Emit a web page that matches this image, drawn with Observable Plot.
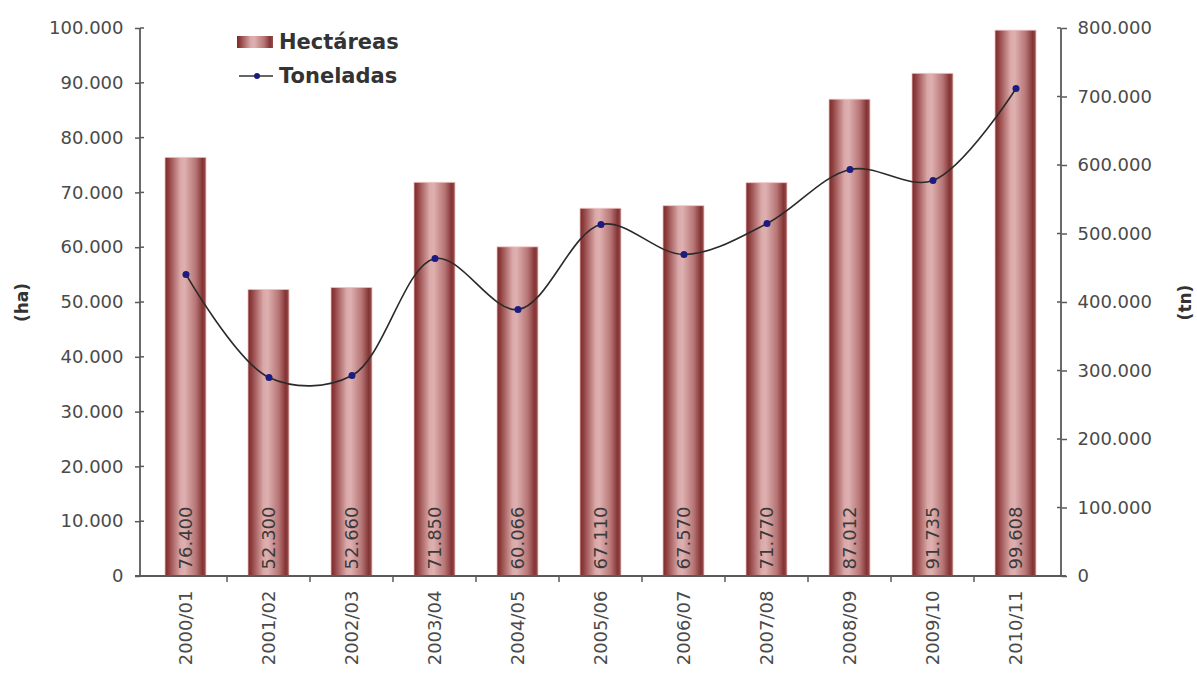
<!DOCTYPE html>
<html>
<head>
<meta charset="utf-8">
<script src="https://cdn.jsdelivr.net/npm/d3@7"></script>
<script src="https://cdn.jsdelivr.net/npm/@observablehq/plot@0.6"></script>
<style>
  html, body { margin: 0; padding: 0; background: #fff; }
  #wrap { position: relative; width: 1197px; height: 675px; font-family: "DejaVu Sans", Verdana, sans-serif; }
  #legend { position: absolute; left: 237px; top: 30px; width: 162px; height: 64px; overflow: hidden; }
  .lg-row { position: absolute; left: 0; display: flex; align-items: center; white-space: nowrap;
            font-weight: bold; font-size: 21px; color: #333; }
  .sw-bar { width: 36px; height: 12px; margin-right: 6px;
            background: linear-gradient(to right, #7b2a2a 0%, #8e3c3c 8%, #dba9a9 38%, #deb0b0 48%, #b77575 75%, #833333 92%, #9a5050 100%); }
</style>
</head>
<body>
<div id="wrap"></div>
<script>
// ---- data ----
const campanias = ["2000/01","2001/02","2002/03","2003/04","2004/05","2005/06","2006/07","2007/08","2008/09","2009/10","2010/11"];
const hectareas = [76400, 52300, 52660, 71850, 60066, 67110, 67570, 71770, 87012, 91735, 99608];
const toneladas = [441000, 290500, 293400, 464200, 389800, 513900, 470100, 515300, 594200, 578100, 712400];
const ticksHa = [0, 10000, 20000, 30000, 40000, 50000, 60000, 70000, 80000, 90000, 100000];
const ticksTn = [0, 100000, 200000, 300000, 400000, 500000, 600000, 700000, 800000];
const maxHa = 100000, maxTn = 800000;
const ratio = maxTn / maxHa;

const data = campanias.map((c, i) => ({c, ha: hectareas[i], tn: toneladas[i]}));
const locale = d3.formatLocale({decimal: ",", thousands: ".", grouping: [3], currency: ["", ""]});
const fmt = locale.format(",d");

const axisColor = "#5a5a5a";
const labelColor = "#4a4a4a";

const defs = () => {
  const svg = d3.create("svg:defs");
  const g = svg.append("linearGradient").attr("id", "barGrad").attr("x1", "0").attr("x2", "1").attr("y1", "0").attr("y2", "0");
  [[0, "#7b2a2a"], [0.08, "#8e3c3c"], [0.38, "#dba9a9"], [0.48, "#deb0b0"], [0.75, "#b77575"], [0.92, "#833333"], [1, "#9a5050"]]
    .forEach(([o, col]) => g.append("stop").attr("offset", o).attr("stop-color", col));
  return svg.node();
};

const decor = (index, scales, values, dims) => {
  const g = d3.create("svg:g").attr("stroke", axisColor).attr("fill", "none");
  const x0 = dims.marginLeft, x1 = dims.width - dims.marginRight;
  const yt = dims.marginTop, yb = dims.height - dims.marginBottom;
  g.append("line").attr("x1", x0).attr("x2", x0).attr("y1", yt).attr("y2", yb).attr("stroke-width", 1.8);
  g.append("line").attr("x1", x1).attr("x2", x1).attr("y1", yt).attr("y2", yb).attr("stroke-width", 1.8);
  g.append("line").attr("x1", x0 - 5).attr("x2", x1 + 5).attr("y1", yb).attr("y2", yb).attr("stroke-width", 1.8);
  // inward halves of the crossing ticks
  ticksHa.forEach(v => { const y = scales.y(v); g.append("line").attr("x1", x0).attr("x2", x0 + 4).attr("y1", y).attr("y2", y).attr("stroke-width", 1.5); });
  ticksTn.forEach(v => { const y = scales.y(v / ratio); g.append("line").attr("x1", x1 - 4).attr("x2", x1).attr("y1", y).attr("y2", y).attr("stroke-width", 1.5); });
  // category boundary ticks on x axis
  const xs = scales.x;
  const bw = xs.bandwidth ? xs.bandwidth() : 0;
  for (let i = 1; i < campanias.length; i++) {
    const bx = (xs(campanias[i - 1]) + xs(campanias[i])) / 2 + bw / 2;
    g.append("line").attr("x1", bx).attr("x2", bx).attr("y1", yb).attr("y2", yb + 6).attr("stroke-width", 1.5);
  }
  return g.node();
};

const chart = Plot.plot({
  width: 1197,
  height: 675,
  marginTop: 28,
  marginBottom: 99,
  marginLeft: 140,
  marginRight: 136,
  style: {fontFamily: "DejaVu Sans, Verdana, sans-serif", fontSize: "18px", color: labelColor, background: "#fff"},
  x: {domain: campanias, paddingInner: 0.51, paddingOuter: 0.255, label: null},
  y: {domain: [0, maxHa], label: null},
  marks: [
    defs,
    Plot.barY(data, {x: "c", y: "ha", fill: "url(#barGrad)", stroke: "#f0c4c4", strokeWidth: 0.8}),
    Plot.text(data, {x: "c", y: 0, text: d => fmt(d.ha), rotate: -90, textAnchor: "start", dy: -7, fill: "#3a3a3a", fontSize: 18}),
    Plot.line(data, {x: "c", y: d => d.tn / ratio, curve: "catmull-rom", stroke: "#2a2a2a", strokeWidth: 1.6}),
    Plot.dot(data, {x: "c", y: d => d.tn / ratio, r: 3.5, fill: "#1c1c80", stroke: "none"}),
    Plot.axisY({anchor: "left", ticks: ticksHa, tickFormat: fmt, tickSize: 5, tickPadding: 12, label: null, stroke: axisColor, strokeWidth: 1.5, fill: labelColor}),
    Plot.axisY({anchor: "right", ticks: ticksTn.map(v => v / ratio), tickFormat: v => fmt(v * ratio), tickSize: 5, tickPadding: 11, label: null, stroke: axisColor, strokeWidth: 1.5, fill: labelColor}),
    Plot.axisX({tickRotate: -90, tickSize: 0, tickPadding: 14, label: null, fill: labelColor}),
    Plot.text(["(ha)"], {frameAnchor: "left", textAnchor: "middle", dx: -118, rotate: -90, fontWeight: "bold", fontSize: 17, fill: "#333"}),
    Plot.text(["(tn)"], {frameAnchor: "right", textAnchor: "middle", dx: 124, rotate: -90, fontWeight: "bold", fontSize: 17, fill: "#333"}),
    decor
  ]
});

const wrap = document.getElementById("wrap");
wrap.appendChild(chart);

const legend = document.createElement("div");
legend.id = "legend";
legend.innerHTML = `
  <div class="lg-row" style="top:0px"><div class="sw-bar"></div><span>Hectáreas</span></div>
  <div class="lg-row" style="top:34px">
    <svg width="36" height="12" style="margin-right:6px"><line x1="2" x2="36" y1="6" y2="6" stroke="#333" stroke-width="1.6"/><circle cx="20" cy="6" r="3" fill="#1c1c80"/></svg>
    <span>Toneladas</span></div>`;
wrap.appendChild(legend);
</script>
</body>
</html>
